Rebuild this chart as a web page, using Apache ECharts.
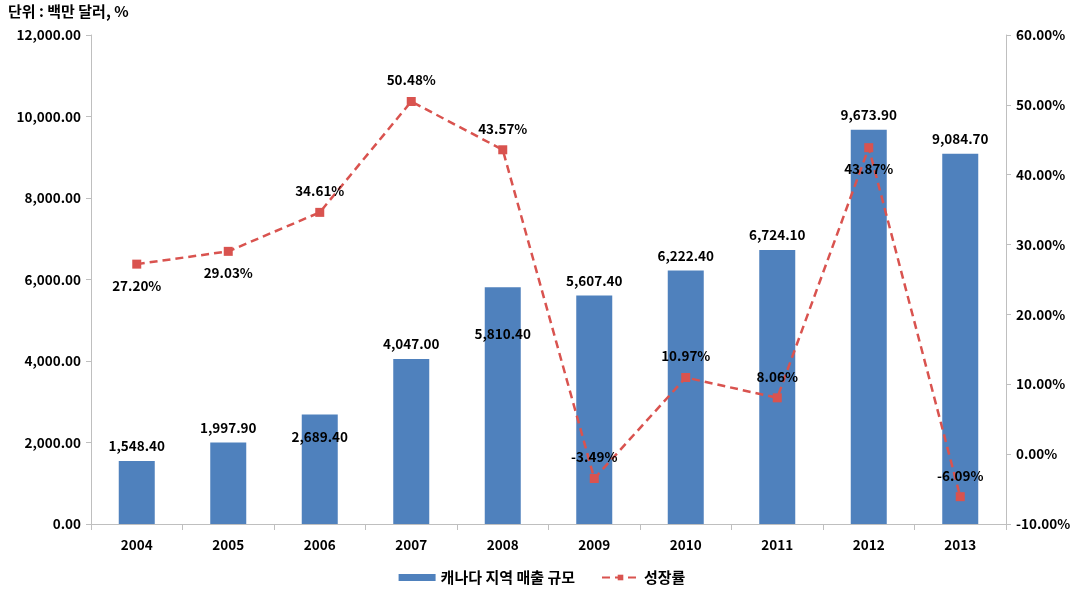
<!DOCTYPE html>
<html>
<head>
<meta charset="utf-8">
<script src="https://cdn.jsdelivr.net/npm/echarts@6/dist/echarts.min.js"></script>
<style>
  html, body { margin: 0; padding: 0; background: #fff; }
  #chart { width: 1084px; height: 597px; }
</style>
</head>
<body>
<div id="chart"></div>
<script>
const years = ['2004', '2005', '2006', '2007', '2008', '2009', '2010', '2011', '2012', '2013'];
const sales = [1548.4, 1997.9, 2689.4, 4047.0, 5810.4, 5607.4, 6222.4, 6724.1, 9673.9, 9084.7];
const growth = [27.20, 29.03, 34.61, 50.48, 43.57, -3.49, 10.97, 8.06, 43.87, -6.09];
const growthLabelPos = ['bottom', 'bottom', 'top', 'top', 'top', 'top', 'top', 'top', 'bottom', 'top'];
// a couple of bar labels were pushed down into the bar in the original
const salesLabelShift = [0, 0, 37, 0, 61, 0, 0, 0, 0, 0];

const font = "'Noto Sans CJK KR', 'Noto Sans', sans-serif";
const axisGray = '#bfbfbf';
const numSize = 13.5;
const fmtNum = (v) => v.toLocaleString('en-US', { minimumFractionDigits: 2, maximumFractionDigits: 2 });

const chart = echarts.init(document.getElementById('chart'), null, { renderer: 'canvas' });
chart.setOption({
  animation: false,
  textStyle: { fontFamily: font },
  graphic: [{
    type: 'text', left: 8, top: 4,
    style: { text: '단위 : 백만 달러, %', fill: '#000', font: `bold 15px ${font}` }
  }],
  grid: { left: 91, right: 78, top: 35, bottom: 73 },
  legend: {
    bottom: 7,
    left: 'center',
    itemGap: 26,
    textStyle: { fontFamily: font, fontSize: 15, fontWeight: 'bold', color: '#000' },
    data: [
      { name: '캐나다 지역 매출 규모', icon: 'rect', itemStyle: { color: '#4f81bd' } },
      { name: '성장률' }
    ],
    itemWidth: 37,
    itemHeight: 7
  },
  xAxis: {
    type: 'category',
    data: years,
    axisLine: { lineStyle: { color: axisGray } },
    axisTick: { show: true, length: 6, lineStyle: { color: axisGray } },
    axisLabel: { color: '#000', fontSize: numSize, fontWeight: 'bold', margin: 14, fontFamily: font }
  },
  yAxis: [{
    type: 'value', min: 0, max: 12000, interval: 2000,
    axisLine: { show: true, lineStyle: { color: axisGray } },
    axisTick: { show: true, length: 5, lineStyle: { color: axisGray } },
    splitLine: { show: false },
    axisLabel: { color: '#000', fontSize: numSize, fontWeight: 'bold', margin: 10, formatter: fmtNum, fontFamily: font }
  }, {
    type: 'value', min: -10, max: 60, interval: 10,
    axisLine: { show: true, lineStyle: { color: axisGray } },
    axisTick: { show: true, length: 5, lineStyle: { color: axisGray } },
    splitLine: { show: false },
    axisLabel: { color: '#000', fontSize: numSize, fontWeight: 'bold', margin: 10, formatter: (v) => v.toFixed(2) + '%', fontFamily: font }
  }],
  series: [{
    name: '캐나다 지역 매출 규모',
    type: 'bar',
    barWidth: 36,
    itemStyle: { color: '#4f81bd' },
    data: sales.map((v, i) => ({
      value: v,
      label: {
        show: true, position: 'top', distance: 8, offset: [0, salesLabelShift[i]],
        color: '#000', fontSize: numSize, fontWeight: 'bold', fontFamily: font,
        formatter: (p) => fmtNum(p.value)
      }
    }))
  }, {
    name: '성장률',
    type: 'line',
    yAxisIndex: 1,
    symbol: 'rect',
    symbolSize: 9,
    itemStyle: { color: '#d9534f' },
    lineStyle: { color: '#d9534f', width: 2.5, type: [8, 5] },
    z: 5,
    data: growth.map((v, i) => ({
      value: v,
      label: {
        show: true, position: growthLabelPos[i], distance: 10,
        color: '#000', fontSize: numSize, fontWeight: 'bold', fontFamily: font,
        formatter: (p) => p.value.toFixed(2) + '%'
      }
    }))
  }]
});
</script>
</body>
</html>
